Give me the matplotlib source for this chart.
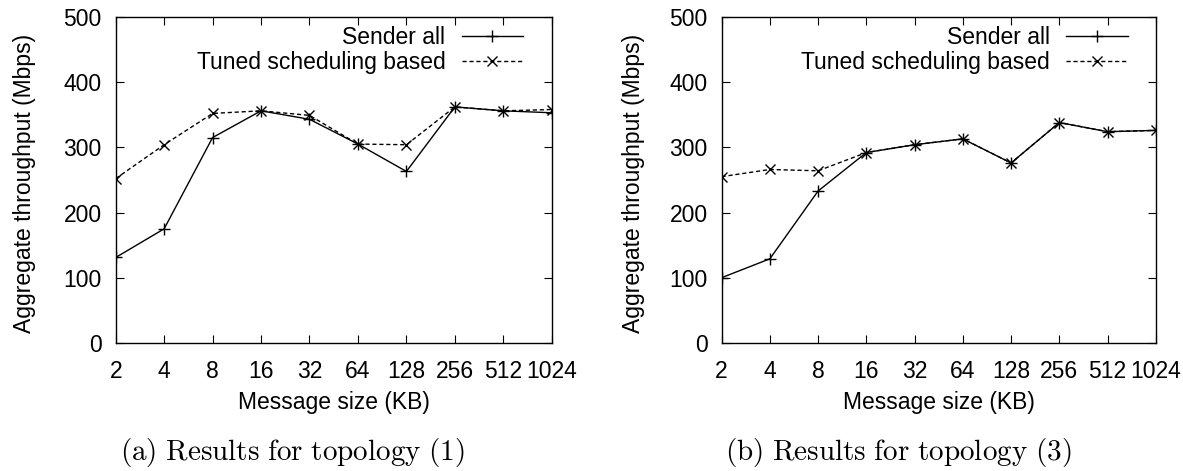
import matplotlib.pyplot as plt
import numpy as np

plt.rcParams['font.family'] = ['Liberation Sans', 'DejaVu Sans']
plt.rcParams['mathtext.fontset'] = 'cm'

sizes = ['2', '4', '8', '16', '32', '64', '128', '256', '512', '1024']

# topology (1)
sender_1 = [131, 175, 315, 356, 343, 305, 263, 362, 356, 353]
tuned_1 = [252, 304, 352, 356, 349, 305, 304, 362, 356, 358]

# topology (3)
sender_3 = [100, 129, 233, 292, 304, 313, 276, 338, 324, 326]
tuned_3 = [255, 266, 264, 292, 304, 313, 276, 338, 324, 326]

captions = [r'$\mathrm{(a)\ Results\ for\ topology\ (1)}$',
            r'$\mathrm{(b)\ Results\ for\ topology\ (3)}$']

fs = 16.5

fig = plt.figure(figsize=(11.83, 4.71), dpi=100)
ax1 = fig.add_axes([0.0978, 0.272, 0.3686, 0.692])
ax2 = fig.add_axes([0.610, 0.272, 0.367, 0.692])

x = np.arange(len(sizes))
for ax, s, t, ylx in [(ax1, sender_1, tuned_1, -0.182),
                      (ax2, sender_3, tuned_3, -0.176)]:
    ax.plot(x, s, color='black', lw=1, marker='+', ms=8, mew=1,
            label='Sender all')
    ax.plot(x, t, color='black', lw=1, ls=(0, (3, 2)), marker='x', ms=7,
            mew=1, label='Tuned scheduling based')
    ax.set_xlim(0, 9)
    ax.set_ylim(0, 500)
    ax.set_xticks(x)
    ax.set_xticklabels(sizes)
    ax.set_yticks(range(0, 501, 100))
    ax.tick_params(direction='in', top=True, right=True, length=6,
                   labelsize=fs)
    ax.tick_params(axis='x', pad=12)
    ax.tick_params(axis='y', pad=10)
    ax.set_xlabel('Message size (KB)', fontsize=fs)
    ax.set_ylabel('Aggregate throughput (Mbps)', fontsize=fs)
    ax.xaxis.set_label_coords(0.5, -0.148)
    ax.yaxis.set_label_coords(ylx, 0.49)
    for sp in ax.spines.values():
        sp.set_linewidth(1)
    ax.legend(loc='upper right', bbox_to_anchor=(0.935, 0.973),
              frameon=False, markerfirst=False, fontsize=fs,
              handlelength=2.7, labelspacing=0.1, borderaxespad=0,
              borderpad=0, handletextpad=0.7)

fig.text(0.247, 0.024, captions[0], fontsize=21, ha='center', va='baseline')
fig.text(0.759, 0.024, captions[1], fontsize=21, ha='center', va='baseline')

fig.savefig('out.png', dpi=100)
